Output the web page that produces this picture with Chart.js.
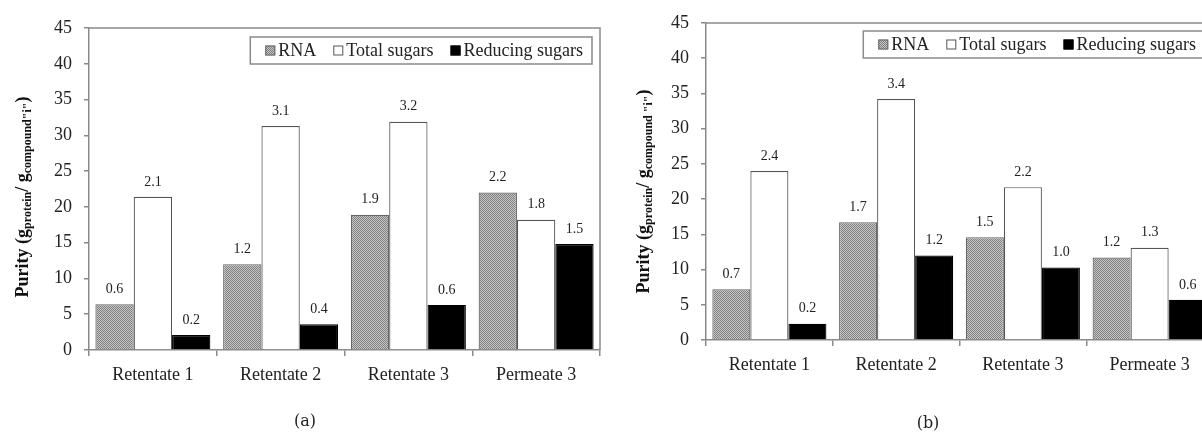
<!DOCTYPE html>
<html>
<head>
<meta charset="utf-8">
<script src="https://cdn.jsdelivr.net/npm/chart.js@4.4.1/dist/chart.umd.min.js"></script>
<style>
  html, body { margin: 0; padding: 0; background: #fff; width: 1202px; height: 432px; overflow: hidden; }
  .wrap { position: absolute; top: 0; }
  .cap { position: absolute; font-family: "DejaVu Serif", serif; font-size: 16px; color: #222; transform: translate(-50%, -50%); }
</style>
</head>
<body>
<div class="wrap" style="left:0"><canvas id="chartA" width="610" height="432"></canvas></div>
<div class="wrap" style="left:610px"><canvas id="chartB" width="610" height="432"></canvas></div>
<div class="cap" style="left:305px; top:420px">(a)</div>
<div class="cap" style="left:928px; top:422px">(b)</div>

<script>
// Категории и подписи
const categories = ['Retentate 1', 'Retentate 2', 'Retentate 3', 'Permeate 3'];
const seriesNames = ['RNA', 'Total sugars', 'Reducing sugars'];

// (a) — высота столбцов
const rnaA = [6.4, 12.0, 18.9, 22.0];
const totalA = [21.4, 31.3, 31.9, 18.2];
const reducingA = [2.1, 3.6, 6.3, 14.8];
// (a) — подписи над столбцами
const rnaLabelsA = ['0.6', '1.2', '1.9', '2.2'];
const totalLabelsA = ['2.1', '3.1', '3.2', '1.8'];
const reducingLabelsA = ['0.2', '0.4', '0.6', '1.5'];

// (b) — высота столбцов
const rnaB = [7.2, 16.7, 14.6, 11.7];
const totalB = [24.0, 34.2, 21.7, 13.1];
const reducingB = [2.3, 12.0, 10.3, 5.7];
// (b) — подписи над столбцами
const rnaLabelsB = ['0.7', '1.7', '1.5', '1.2'];
const totalLabelsB = ['2.4', '3.4', '2.2', '1.3'];
const reducingLabelsB = ['0.2', '1.2', '1.0', '0.6'];

const yTicks = { min: 0, max: 45, step: 5 };

const SERIF = '"Liberation Serif", "Times New Roman", serif';
const AXIS_GREY = '#8a8a8a';

// Точечная заливка для RNA
function makeDotPattern() {
    const c = document.createElement('canvas');
    c.width = 2;
    c.height = 2;
    const g = c.getContext('2d');
    g.fillStyle = '#c6c6c6';
    g.fillRect(0, 0, 2, 2);
    g.fillStyle = '#808080';
    g.fillRect(0, 0, 1, 1);
    g.fillRect(1, 1, 1, 1);
    return g.createPattern(c, 'repeat');
}
const dotPattern = makeDotPattern();

const swatches = [
    { fill: dotPattern, stroke: '#666' },
    { fill: '#ffffff', stroke: '#555' },
    { fill: '#000000', stroke: '#000' }
];

// Рамка, легенда, подписи значений и заголовок оси Y
const decorPlugin = {
    id: 'decor',
    afterDatasetsDraw(chart, args, opts) {
        const ctx = chart.ctx;
        const area = chart.chartArea;

        // подписи над столбцами
        ctx.save();
        ctx.font = '14px ' + SERIF;
        ctx.fillStyle = '#222';
        ctx.textAlign = 'center';
        ctx.textBaseline = 'middle';
        chart.data.datasets.forEach((ds, i) => {
            const meta = chart.getDatasetMeta(i);
            meta.data.forEach((bar, j) => {
                ctx.fillText(ds.valueLabels[j], bar.x, bar.y - 15);
            });
        });
        ctx.restore();

        // рамка (верх и право)
        ctx.save();
        ctx.strokeStyle = AXIS_GREY;
        ctx.lineWidth = 1.5;
        ctx.beginPath();
        ctx.moveTo(area.left, area.top);
        ctx.lineTo(area.right, area.top);
        ctx.lineTo(area.right, area.bottom);
        ctx.stroke();
        ctx.restore();

        // легенда
        ctx.save();
        ctx.font = '18px ' + SERIF;
        const sw = 10, gapText = 3, gapItem = 17, padL = 15, padR = 9;
        let width = padL + padR;
        seriesNames.forEach((n, i) => {
            width += sw + gapText + ctx.measureText(n).width;
            if (i < seriesNames.length - 1) width += gapItem;
        });
        const boxRight = area.right - 8;
        const boxLeft = boxRight - width;
        const boxTop = area.top + opts.legendTop;
        const boxH = 27;
        ctx.fillStyle = '#fff';
        ctx.fillRect(boxLeft, boxTop, width, boxH);
        ctx.strokeStyle = AXIS_GREY;
        ctx.lineWidth = 1.5;
        ctx.strokeRect(boxLeft, boxTop, width, boxH);
        let x = boxLeft + padL;
        const cy = boxTop + boxH / 2;
        ctx.textBaseline = 'middle';
        ctx.textAlign = 'left';
        seriesNames.forEach((n, i) => {
            ctx.fillStyle = swatches[i].fill;
            ctx.fillRect(x, cy - sw / 2, sw, sw);
            ctx.strokeStyle = swatches[i].stroke;
            ctx.lineWidth = 1;
            ctx.strokeRect(x + 0.5, cy - sw / 2 + 0.5, sw - 1, sw - 1);
            x += sw + gapText;
            ctx.fillStyle = '#222';
            ctx.fillText(n, x, cy + 1);
            x += ctx.measureText(n).width + gapItem;
        });
        ctx.restore();

        // заголовок оси Y с индексами
        const parts = [
            { t: 'Purity (g', sub: false },
            { t: 'protein', sub: true },
            { t: '/ g', sub: false },
            { t: opts.compound, sub: true },
            { t: ')', sub: false }
        ];
        const bigFont = 'bold 18px ' + SERIF;
        const smallFont = 'bold 12px ' + SERIF;
        ctx.save();
        let total = 0;
        parts.forEach(p => {
            ctx.font = p.sub ? smallFont : bigFont;
            p.w = ctx.measureText(p.t).width;
            total += p.w;
        });
        ctx.translate(opts.titleX, (area.top + area.bottom) / 2 + opts.titleShift);
        ctx.rotate(-Math.PI / 2);
        ctx.fillStyle = '#111';
        ctx.textBaseline = 'alphabetic';
        ctx.textAlign = 'left';
        let px = -total / 2;
        parts.forEach(p => {
            ctx.font = p.sub ? smallFont : bigFont;
            ctx.fillText(p.t, px, p.sub ? 9 : 6);
            px += p.w;
        });
        ctx.restore();
    }
};

function buildChart(canvasId, values, labels, layout) {
    const ctx = document.getElementById(canvasId).getContext('2d');
    return new Chart(ctx, {
        type: 'bar',
        data: {
            labels: categories,
            datasets: values.map((vals, i) => ({
                label: seriesNames[i],
                data: vals,
                valueLabels: labels[i],
                backgroundColor: swatches[i].fill,
                borderColor: swatches[i].stroke,
                borderWidth: 1.2,
                categoryPercentage: 0.9,
                barPercentage: 1.0
            }))
        },
        options: {
            responsive: false,
            animation: false,
            devicePixelRatio: 1,
            layout: { padding: { top: layout.top, right: layout.right, left: 0, bottom: 0 } },
            plugins: {
                legend: { display: false },
                tooltip: { enabled: false },
                decor: {
                    legendTop: layout.legendTop,
                    titleX: layout.titleX,
                    titleShift: layout.titleShift,
                    compound: layout.compound
                }
            },
            scales: {
                x: {
                    grid: { display: true, drawOnChartArea: false, drawTicks: true, tickLength: 6, color: AXIS_GREY, lineWidth: 1.5, offset: true },
                    border: { color: AXIS_GREY, width: 1.5 },
                    ticks: { font: { family: SERIF, size: 18 }, color: '#222', padding: 8, maxRotation: 0, autoSkip: false },
                    afterFit: s => { s.height = layout.xHeight; }
                },
                y: {
                    min: yTicks.min,
                    max: yTicks.max,
                    grid: { display: true, drawOnChartArea: false, drawTicks: true, tickLength: 5, color: AXIS_GREY, lineWidth: 1.5 },
                    border: { color: AXIS_GREY, width: 1.5 },
                    ticks: { stepSize: yTicks.step, font: { family: SERIF, size: 18 }, color: '#222', padding: 12 },
                    afterFit: s => { s.width = layout.yWidth; }
                }
            }
        },
        plugins: [decorPlugin]
    });
}

document.addEventListener('DOMContentLoaded', () => {
    buildChart('chartA',
        [rnaA, totalA, reducingA],
        [rnaLabelsA, totalLabelsA, reducingLabelsA],
        { top: 28, right: 10, xHeight: 82, yWidth: 89, legendTop: 9, titleX: 22, titleShift: 8, compound: 'compound"i"' });
    buildChart('chartB',
        [rnaB, totalB, reducingB],
        [rnaLabelsB, totalLabelsB, reducingLabelsB],
        { top: 23, right: 7, xHeight: 92, yWidth: 96, legendTop: 8, titleX: 33, titleShift: 10, compound: 'compound "i"' });
});
</script>
</body>
</html>
